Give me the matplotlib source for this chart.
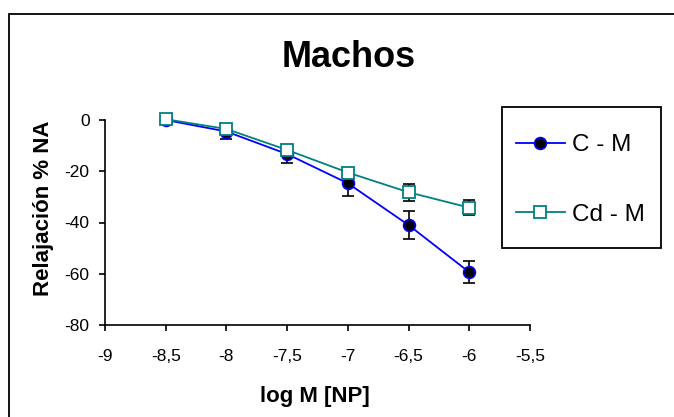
import matplotlib
matplotlib.use("Agg")
import matplotlib.pyplot as plt
from matplotlib.patches import Rectangle

plt.rcParams['font.family'] = ['Liberation Sans', 'DejaVu Sans']
plt.rcParams['axes.unicode_minus'] = False

log_m = [-8.5, -8.0, -7.5, -7.0, -6.5, -6.0]
c_m = [0.0, -4.5, -13.3, -24.7, -41.0, -59.4]
c_m_err = [0.0, 3.0, 3.6, 4.8, 5.6, 4.2]
cd_m = [0.3, -3.5, -11.7, -20.5, -28.2, -34.2]
cd_m_err = [0.0, 2.0, 2.0, 1.8, 3.3, 3.0]

x_ticks = [-9, -8.5, -8, -7.5, -7, -6.5, -6, -5.5]
x_tick_labels = ["-9", "-8,5", "-8", "-7,5", "-7", "-6,5", "-6", "-5,5"]
y_ticks = [0, -20, -40, -60, -80]

W, H = 674, 417
fig = plt.figure(figsize=(W / 100, H / 100), dpi=100)
fig.patches.append(Rectangle((9 / W, -0.2), 1.2, 0.2 + 1 - 14 / H,
                             transform=fig.transFigure, fill=False,
                             edgecolor='black', linewidth=1.3))

ax = fig.add_axes([105 / W, 1 - 325 / H, 425 / W, 205 / H])

ax.errorbar(log_m, c_m, yerr=c_m_err, fmt='none', ecolor='black',
            elinewidth=1.2, capsize=4, capthick=1.2, zorder=2)
ax.errorbar(log_m, cd_m, yerr=cd_m_err, fmt='none', ecolor='black',
            elinewidth=1.2, capsize=4, capthick=1.2, zorder=2)

ax.plot(log_m, c_m, color='#0000FF', linewidth=1.3, marker='o',
        markersize=8.5, markerfacecolor='black', markeredgecolor='#0000FF',
        markeredgewidth=1.2, label='C - M', zorder=3, clip_on=False)
ax.plot(log_m, cd_m, color='#008080', linewidth=1.3, marker='s',
        markersize=8, markerfacecolor='white', markeredgecolor='#008080',
        markeredgewidth=1.3, label='Cd - M', zorder=4, clip_on=False)

ax.set_xlim(-9, -5.5)
ax.set_ylim(-80, 0)
ax.set_xticks(x_ticks)
ax.set_xticklabels(x_tick_labels)
ax.set_yticks(y_ticks)
ax.spines['top'].set_visible(False)
ax.spines['right'].set_visible(False)
for s in ('left', 'bottom'):
    ax.spines[s].set_linewidth(1.2)
ax.tick_params(axis='both', labelsize=12.5, width=1.2, length=4,
               direction='out', pad=7)
ax.tick_params(axis='x', pad=13)

fig.text(315 / W, 1 - 402 / H, 'log M [NP]', fontsize=16, fontweight='bold',
         ha='center', va='baseline')
fig.text(44 / W, 1 - 208 / H, 'Relajación % NA', fontsize=16,
         fontweight='bold', ha='center', va='center', rotation=90)

fig.text(349 / W, 1 - 67 / H, 'Machos', fontsize=26, fontweight='bold',
         ha='center', va='baseline')

fig.patches.append(Rectangle((502 / W, 1 - 247.5 / H), 158.5 / W, 141 / H,
                             transform=fig.transFigure, fill=False,
                             edgecolor='black', linewidth=1.3))
leg = ax.legend(loc='upper left', bbox_to_anchor=(516 / W, 1 - 134 / H),
                bbox_transform=fig.transFigure, frameon=False,
                fontsize=17.5, handlelength=2.0, labelspacing=1.97,
                borderpad=0, handletextpad=0.3, borderaxespad=0)

fig.savefig('out.png', dpi=100)
